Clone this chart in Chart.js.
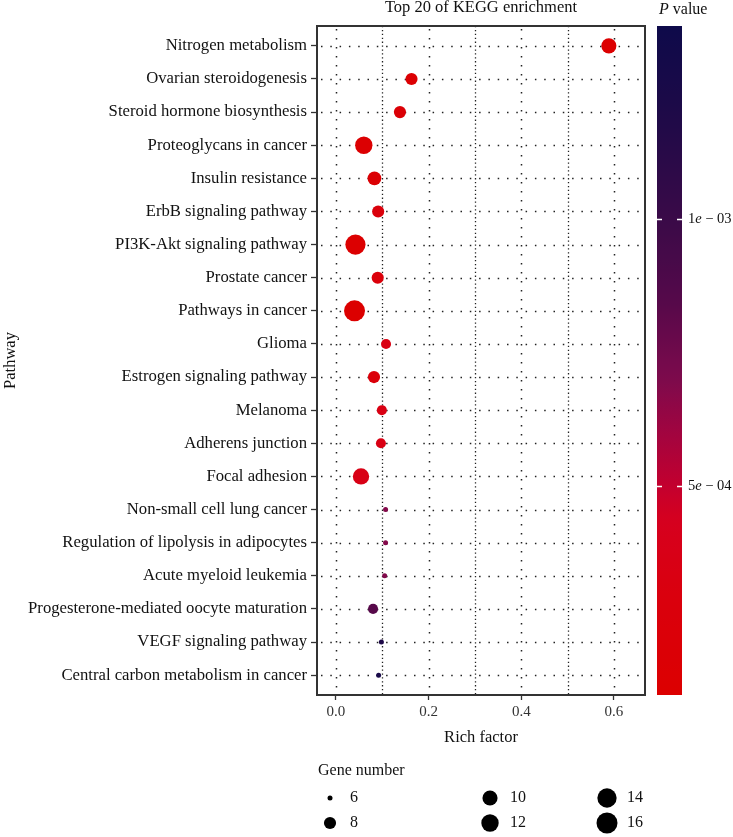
<!DOCTYPE html>
<html>
<head>
<meta charset="utf-8">
<script src="https://cdn.jsdelivr.net/npm/chart.js@4.4.1/dist/chart.umd.min.js"></script>
<style>
  html, body { margin: 0; padding: 0; background: #fff; }
  #wrap { width: 733px; height: 837px; }
</style>
</head>
<body>
<div id="wrap"><canvas id="c" width="733" height="837"></canvas></div>
<script>
const pathways = [
  'Nitrogen metabolism', 'Ovarian steroidogenesis', 'Steroid hormone biosynthesis',
  'Proteoglycans in cancer', 'Insulin resistance', 'ErbB signaling pathway',
  'PI3K-Akt signaling pathway', 'Prostate cancer', 'Pathways in cancer', 'Glioma',
  'Estrogen signaling pathway', 'Melanoma', 'Adherens junction', 'Focal adhesion',
  'Non-small cell lung cancer', 'Regulation of lipolysis in adipocytes',
  'Acute myeloid leukemia', 'Progesterone-mediated oocyte maturation',
  'VEGF signaling pathway', 'Central carbon metabolism in cancer'
];
const richFactor = [0.589, 0.163, 0.138, 0.060, 0.083, 0.091, 0.042, 0.090, 0.040, 0.108,
  0.082, 0.099, 0.097, 0.054, 0.107, 0.107, 0.105, 0.080, 0.098, 0.092];
const geneNumber = [10, 8, 8, 12, 9, 8, 15, 8, 16, 7, 8, 7, 7, 11, 6, 6, 6, 7, 6, 6];
const pValue = [1.2e-4, 1.5e-4, 1.9e-4, 1.4e-4, 1.6e-4, 2.6e-4, 1.2e-4, 2.4e-4, 1.1e-4, 3.2e-4,
  2.5e-4, 3.4e-4, 3.4e-4, 3.6e-4, 6.8e-4, 6.8e-4, 6.9e-4, 8.4e-4, 1.2e-3, 1.25e-3];

const xTicks = [0, 0.2, 0.4, 0.6];
const xMinor = [0.1, 0.3, 0.5];
const pTicks = [5e-4, 1e-3];
const pTickMant = ['5', '1'];
const pTickExp = [' \u2212 04', ' \u2212 03'];
const legendGenes = [6, 8, 10, 12, 14, 16];

const pMin = 1.1e-4, pMax = 1.36e-3;
// gradient stops (position along the p range, colour)
const gradStops = [
  [0.00, [220, 0, 0]],
  [0.15, [218, 0, 14]],
  [0.26, [214, 0, 30]],
  [0.31, [196, 0, 46]],
  [0.39, [162, 4, 63]],
  [0.47, [126, 10, 76]],
  [0.59, [85, 9, 74]],
  [0.71, [58, 10, 72]],
  [0.87, [30, 10, 72]],
  [1.00, [14, 10, 74]]
];
const serif = '"Liberation Serif", "DejaVu Serif", serif';

function colorFor(p) {
  const t = Math.max(0, Math.min(1, (p - pMin) / (pMax - pMin)));
  let k = 0;
  while (k < gradStops.length - 2 && t > gradStops[k + 1][0]) k++;
  const [t0, c0] = gradStops[k], [t1, c1] = gradStops[k + 1];
  const f = (t - t0) / (t1 - t0);
  const c = c0.map((v, i) => Math.round(v + (c1[i] - v) * f));
  return `rgb(${c[0]},${c[1]},${c[2]})`;
}
function radiusFor(g) {
  return (5 + 16 * Math.sqrt(Math.max(0, g - 6) / 10)) / 2;
}

const points = pathways.map((p, i) => ({ x: richFactor[i], y: i }));

const decor = {
  id: 'decor',
  beforeDatasetsDraw(chart) {
    const { ctx, chartArea: a, scales: { x, y } } = chart;
    ctx.save();
    ctx.strokeStyle = '#222';
    ctx.lineWidth = 1.5;
    // horizontal dotted lines
    ctx.setLineDash([1.5, 7.8]);
    pathways.forEach((p, i) => {
      const py = Math.round(y.getPixelForValue(i)) + 0.5;
      ctx.beginPath(); ctx.moveTo(a.left + 4, py); ctx.lineTo(a.right, py); ctx.stroke();
    });
    // vertical major
    ctx.setLineDash([1.5, 7.5]);
    xTicks.forEach(v => {
      const px = Math.round(x.getPixelForValue(v)) + 0.5;
      ctx.beginPath(); ctx.moveTo(px, a.top + 3); ctx.lineTo(px, a.bottom); ctx.stroke();
    });
    // vertical minor
    ctx.lineWidth = 1.3;
    ctx.setLineDash([1.3, 2.6]);
    xMinor.forEach(v => {
      const px = Math.round(x.getPixelForValue(v)) + 0.5;
      ctx.beginPath(); ctx.moveTo(px, a.top); ctx.lineTo(px, a.bottom); ctx.stroke();
    });
    ctx.restore();
  },
  afterDatasetsDraw(chart) {
    const { ctx, chartArea: a } = chart;
    ctx.save();
    ctx.strokeStyle = '#333';
    ctx.lineWidth = 2;
    ctx.strokeRect(a.left, a.top, a.right - a.left, a.bottom - a.top);
    ctx.restore();
  },
  afterDraw(chart) {
    const { ctx, chartArea: a } = chart;
    ctx.save();
    ctx.fillStyle = '#111';
    ctx.textBaseline = 'middle';
    // title
    ctx.font = `16.5px ${serif}`;
    ctx.textAlign = 'center';
    ctx.fillText('Top 20 of KEGG enrichment', (a.left + a.right) / 2, 8);
    // axis titles
    ctx.fillText('Rich factor', (a.left + a.right) / 2, 738);
    ctx.save();
    ctx.translate(11, (a.top + a.bottom) / 2);
    ctx.rotate(-Math.PI / 2);
    ctx.fillText('Pathway', 0, 0);
    ctx.restore();

    // colour bar
    const cbL = 657, cbW = 25, cbT = a.top, cbB = a.bottom;
    const grad = ctx.createLinearGradient(0, cbB, 0, cbT);
    for (let k = 0; k <= 60; k++) {
      grad.addColorStop(k / 60, colorFor(pMin + (pMax - pMin) * k / 60));
    }
    ctx.fillStyle = grad;
    ctx.fillRect(cbL, cbT, cbW, cbB - cbT);
    const pY = p => cbB - (p - pMin) / (pMax - pMin) * (cbB - cbT);
    ctx.strokeStyle = '#fff';
    ctx.lineWidth = 1.5;
    ctx.textAlign = 'left';
    pTicks.forEach((p, i) => {
      const ty = Math.round(pY(p)) + 0.5;
      ctx.beginPath();
      ctx.moveTo(cbL, ty); ctx.lineTo(cbL + 5, ty);
      ctx.moveTo(cbL + cbW - 5, ty); ctx.lineTo(cbL + cbW, ty);
      ctx.stroke();
      let tx = cbL + cbW + 6;
      ctx.fillStyle = '#111';
      ctx.font = `14.5px ${serif}`;
      ctx.fillText(pTickMant[i], tx, ty);
      tx += ctx.measureText(pTickMant[i]).width;
      ctx.font = `italic 14.5px ${serif}`;
      ctx.fillText('e', tx, ty);
      tx += ctx.measureText('e').width;
      ctx.font = `14.5px ${serif}`;
      ctx.fillText(pTickExp[i], tx, ty);
    });
    // P value label
    ctx.fillStyle = '#111';
    ctx.font = `italic 16px ${serif}`;
    ctx.fillText('P', 659, 10);
    const pw = ctx.measureText('P').width;
    ctx.font = `16px ${serif}`;
    ctx.fillText(' value', 659 + pw, 10);

    // size legend
    ctx.font = `16px ${serif}`;
    ctx.fillText('Gene number', 318, 771);
    const colX = [330, 490, 607], rowY = [798, 823];
    legendGenes.forEach((g, i) => {
      const cx = colX[Math.floor(i / 2)], cy = rowY[i % 2];
      ctx.fillStyle = '#000';
      ctx.beginPath(); ctx.arc(cx, cy, radiusFor(g), 0, Math.PI * 2); ctx.fill();
      ctx.fillStyle = '#111';
      ctx.fillText(String(g), cx + 20, cy);
    });
    ctx.restore();
  }
};

new Chart(document.getElementById('c'), {
  type: 'scatter',
  data: {
    datasets: [{
      data: points,
      pointRadius: geneNumber.map(radiusFor),
      pointHoverRadius: geneNumber.map(radiusFor),
      backgroundColor: pValue.map(colorFor),
      borderWidth: 0
    }]
  },
  options: {
    responsive: false,
    animation: false,
    layout: { padding: { top: 26, right: 88, left: 0, bottom: 0 } },
    plugins: { legend: { display: false }, tooltip: { enabled: false } },
    scales: {
      x: {
        type: 'linear',
        min: -0.041,
        max: 0.667,
        afterBuildTicks: s => { s.ticks = xTicks.map(v => ({ value: v })); },
        afterFit: s => { s.height = 142; },
        ticks: {
          callback: v => v.toFixed(1),
          font: { family: serif, size: 15 },
          color: '#333',
          padding: 3,
          maxRotation: 0
        },
        grid: { drawOnChartArea: false, drawTicks: true, tickLength: 5, tickColor: '#333', tickWidth: 1.3 },
        border: { display: false }
      },
      y: {
        type: 'linear',
        reverse: true,
        min: -0.6,
        max: 19.6,
        afterBuildTicks: s => { s.ticks = pathways.map((p, i) => ({ value: i })); },
        afterFit: s => { s.width = 317; },
        ticks: {
          callback: v => pathways[v],
          font: { family: serif, size: 16.7 },
          color: '#111',
          padding: 4,
          autoSkip: false
        },
        grid: { drawOnChartArea: false, drawTicks: true, tickLength: 6, tickColor: '#333', tickWidth: 1.3 },
        border: { display: false }
      }
    }
  },
  plugins: [decor]
});
</script>
</body>
</html>
